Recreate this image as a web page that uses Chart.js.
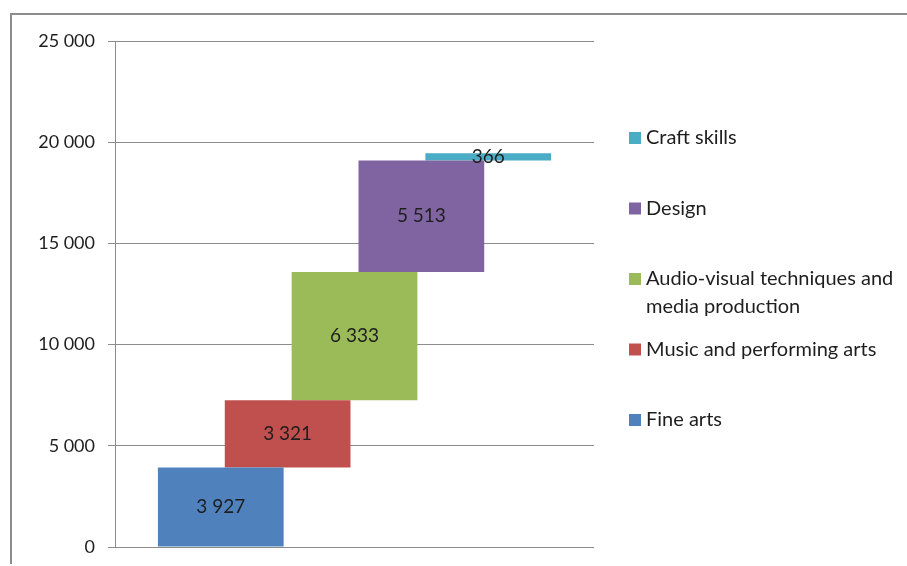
<!DOCTYPE html>
<html>
<head>
<meta charset="utf-8">
<script src="https://cdn.jsdelivr.net/npm/chart.js@4.4.1/dist/chart.umd.min.js"></script>
<style>
  html, body { margin: 0; padding: 0; background: #fff; }
  #wrap { position: relative; width: 907px; height: 566px; overflow: hidden; }
  #frame {
    position: absolute; left: 10px; top: 13px; width: 1000px; height: 549px;
    border-left: 2px solid #8c8c8c; border-top: 2px solid #8c8c8c;
  }
  #salesChart { position: absolute; left: 0; top: 0; }
</style>
</head>
<body>
<div id="wrap">
  <div id="frame"></div>
  <canvas id="salesChart" width="907" height="566"></canvas>
</div>
<script>
const fields = ['Fine arts', 'Music and performing arts', 'Audio-visual techniques and media production', 'Design', 'Craft skills'];
const counts = [3927, 3321, 6333, 5513, 366];
const colors = ['#4f81bd', '#c0504d', '#9bbb59', '#8064a2', '#4bacc6'];
const yTicks = [0, 5000, 10000, 15000, 20000, 25000];

const FONT = 'Lato, "Open Sans", sans-serif';
const TEXT = '#1e1e1e';

function fmt(n) {
    return String(n).replace(/\B(?=(\d{3})+(?!\d))/g, ' ');
}

// each field floats on top of the running total of the previous ones
let running = 0;
const datasets = fields.map(function (name, i) {
    const start = running;
    running += counts[i];
    return {
        label: name,
        data: [[start, running]],
        backgroundColor: colors[i],
        borderWidth: 0,
        barPercentage: 1.88,
        categoryPercentage: 0.698
    };
});

const valueLabels = {
    id: 'valueLabels',
    afterDatasetsDraw(chart) {
        const ctx = chart.ctx;
        ctx.save();
        ctx.font = '19px ' + FONT;
        ctx.fillStyle = TEXT;
        ctx.textAlign = 'center';
        ctx.textBaseline = 'middle';
        chart.data.datasets.forEach(function (ds, i) {
            const bar = chart.getDatasetMeta(i).data[0];
            ctx.fillText(fmt(counts[i]), bar.x, (bar.y + bar.base) / 2);
        });
        ctx.restore();
    }
};

// legend on the right, last series on top, long names wrapped
const sideLegend = {
    id: 'sideLegend',
    afterDraw(chart) {
        const ctx = chart.ctx;
        const boxX = 629, textX = 646, maxW = 256, top = 138, step = 70.5, lineH = 28;
        ctx.save();
        ctx.font = '20px ' + FONT;
        ctx.textBaseline = 'middle';
        ctx.textAlign = 'left';
        const n = fields.length;
        for (let k = 0; k < n; k++) {
            const i = n - 1 - k;
            const y = top + k * step;
            ctx.fillStyle = colors[i];
            ctx.fillRect(boxX, y - 6, 12, 12);
            ctx.fillStyle = TEXT;
            const words = fields[i].split(' ');
            let line = '', ly = y;
            words.forEach(function (w) {
                const test = line ? line + ' ' + w : w;
                if (line && ctx.measureText(test).width > maxW) {
                    ctx.fillText(line, textX, ly);
                    line = w;
                    ly += lineH;
                } else {
                    line = test;
                }
            });
            ctx.fillText(line, textX, ly);
        }
        ctx.restore();
    }
};

const ctx = document.getElementById('salesChart').getContext('2d');
new Chart(ctx, {
    type: 'bar',
    data: { labels: ['Total'], datasets: datasets },
    options: {
        responsive: false,
        animation: false,
        layout: { padding: { left: 0, top: 41, right: 313, bottom: 19 } },
        scales: {
            x: { display: false },
            y: {
                min: yTicks[0],
                max: yTicks[yTicks.length - 1],
                afterBuildTicks: function (scale) {
                    scale.ticks = yTicks.map(v => ({ value: v }));
                },
                afterFit: function (scale) {
                    scale.width = 115;
                    // plot edges come from layout padding only
                    scale.paddingTop = 0;
                    scale.paddingBottom = 0;
                },
                grid: { color: '#8c8c8c', lineWidth: 1, tickLength: 7 },
                border: { color: '#8c8c8c', width: 1 },
                ticks: {
                    padding: 13,
                    color: TEXT,
                    font: { family: FONT, size: 18 },
                    callback: function (value) { return fmt(value); }
                }
            }
        },
        plugins: {
            legend: { display: false },
            tooltip: { enabled: false }
        }
    },
    plugins: [valueLabels, sideLegend]
});
</script>
</body>
</html>
